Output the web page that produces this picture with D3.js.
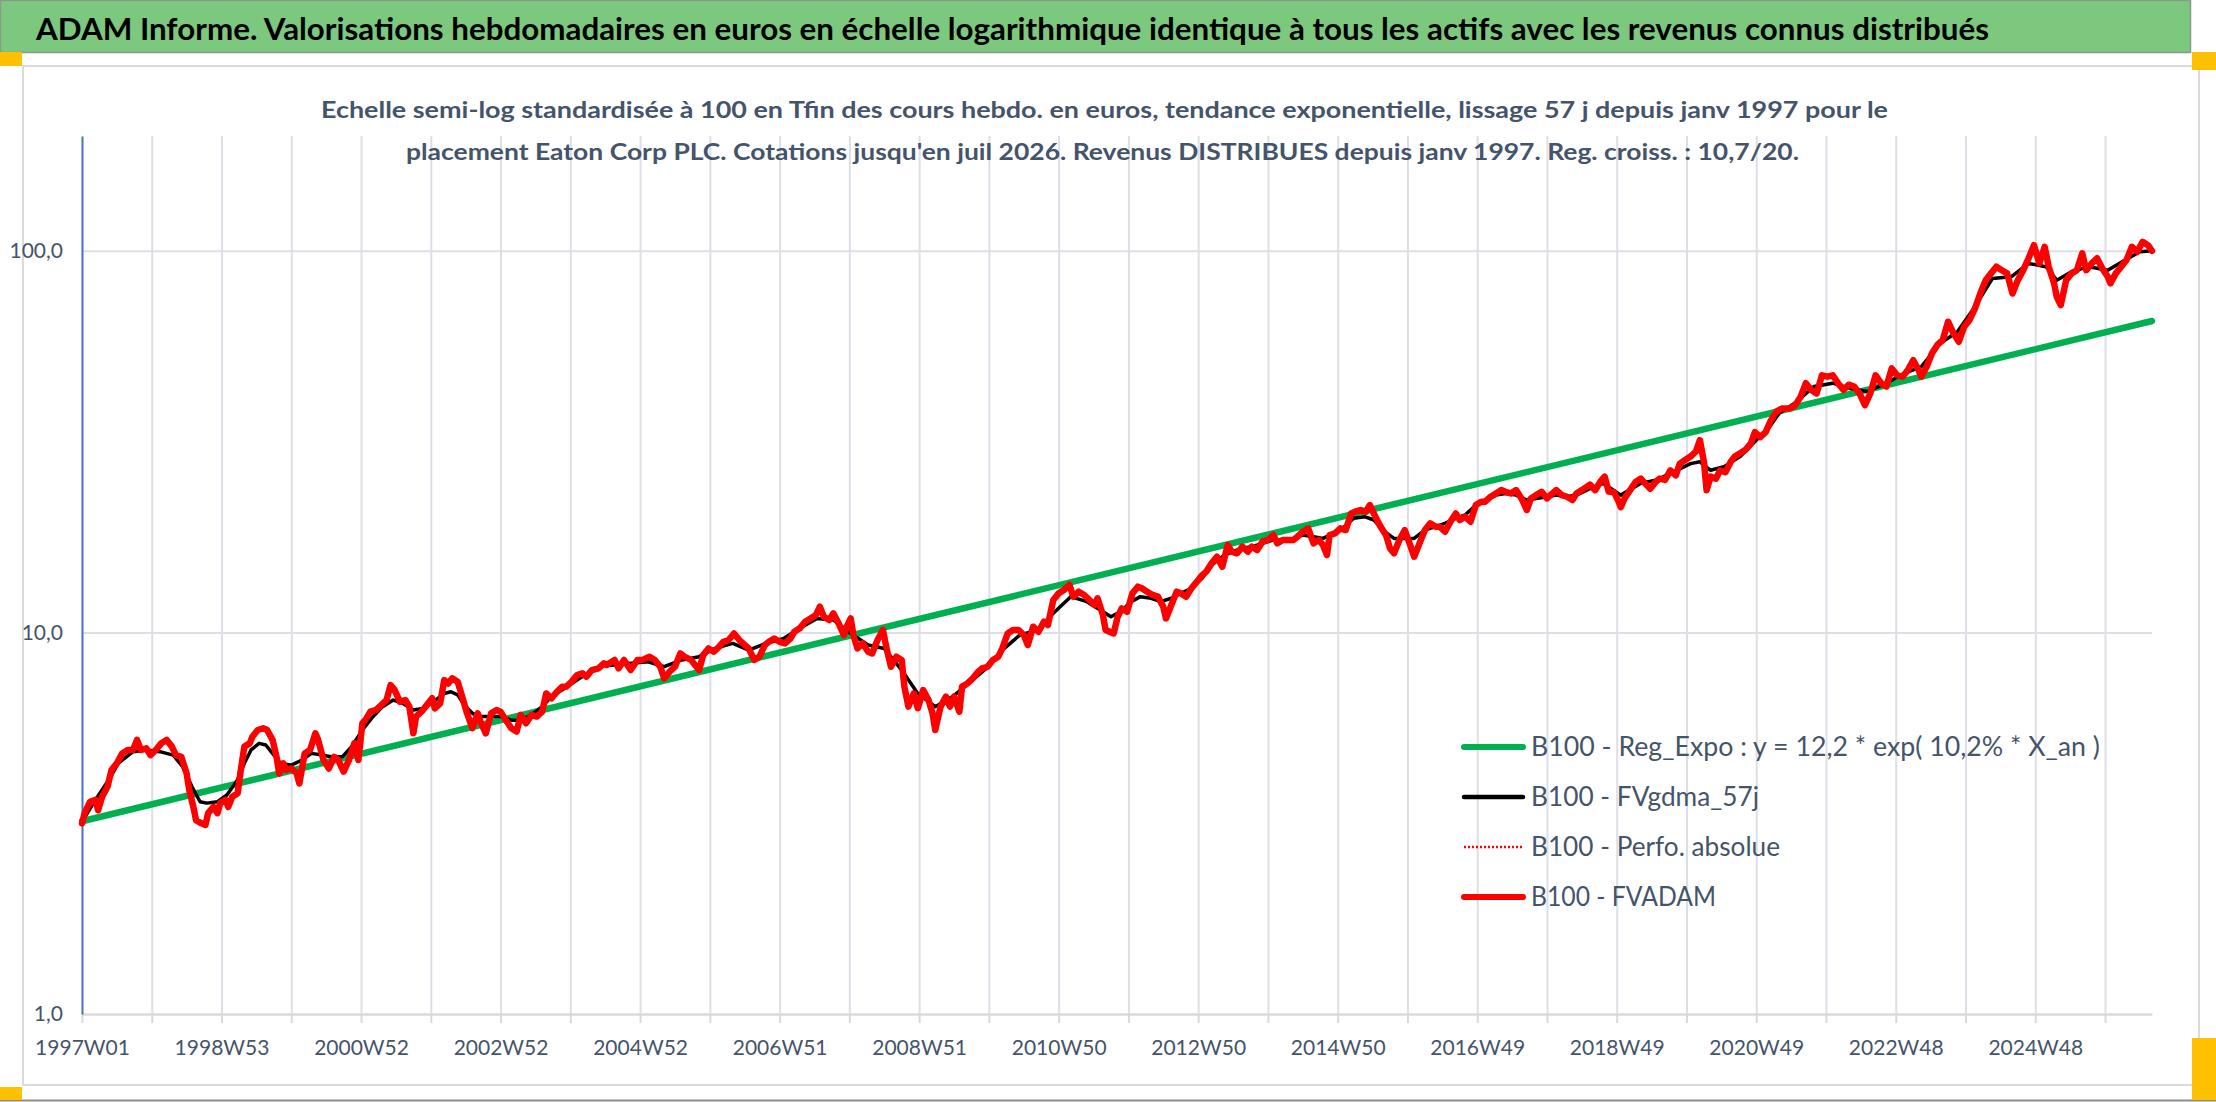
<!DOCTYPE html>
<html>
<head>
<meta charset="utf-8">
<script src="https://cdn.jsdelivr.net/npm/d3@7"></script>
<style>
body { margin: 0; background: #ffffff; }
svg { display: block; }
</style>
</head>
<body>
<script>
// texts
var titleText = "ADAM Informe. Valorisations hebdomadaires en euros en échelle logarithmique identique à tous les actifs avec les revenus connus distribués";
var subtitleLines = [
    "Echelle semi-log standardisée à 100 en Tfin des cours hebdo. en euros, tendance exponentielle, lissage 57 j depuis janv 1997 pour le",
    "placement Eaton Corp PLC. Cotations jusqu'en juil 2026. Revenus DISTRIBUES depuis janv 1997. Reg. croiss. : 10,7/20."
];
var legendLabels = [
    "B100 - Reg_Expo : y = 12,2 * exp( 10,2% *  X_an )",
    "B100 - FVgdma_57j",
    "B100 - Perfo. absolue",
    "B100 - FVADAM"
];

// x axis: week index from 1997W01, one label every 104 weeks
var weekLabels = ["1997W01", "1998W53", "2000W52", "2002W52", "2004W52", "2006W51", "2008W51",
    "2010W50", "2012W50", "2014W50", "2016W49", "2018W49", "2020W49", "2022W48", "2024W48"];
var lastWeek = 1543;
var yTicks = [1, 10, 100];

// series : [week index, value]
var regExpo = [[0, 3.2], [1543, 65.5]];

var fvgdma = [
 [0,3.19],[10,3.64],[20,4.11],[27,4.54],[38,4.87],[48,4.92],[58,4.87],[68,4.77],[75,4.45],[82,3.94],
 [88,3.60],[93,3.57],[101,3.60],[108,3.75],[116,4.11],[121,4.54],[126,4.92],[132,5.12],[137,5.07],[142,4.82],
 [148,4.54],[156,4.49],[164,4.63],[171,4.82],[179,4.77],[186,4.72],[194,4.72],[201,5.02],[209,5.55],[217,6.02],
 [224,6.39],[232,6.65],[239,6.52],[247,6.26],[254,6.32],[262,6.58],[270,6.92],[275,6.99],[280,6.86],[285,6.45],
 [291,6.14],[297,6.02],[305,6.02],[312,6.02],[320,5.89],[327,5.89],[335,6.08],[343,6.39],[350,6.79],[358,7.07],
 [365,7.35],[373,7.66],[380,7.89],[389,8.18],[397,8.22],[409,8.30],[422,8.38],[434,8.13],[447,8.47],[460,8.64],
 [472,9.08],[485,9.36],[497,8.99],[510,9.36],[523,9.64],[535,10.25],[548,10.88],[560,10.78],[573,9.94],[586,9.27],
 [598,9.08],[611,7.97],[623,6.92],[636,6.39],[649,6.79],[661,7.35],[674,8.05],[686,8.99],[699,9.84],[712,10.15],
 [724,11.22],[737,12.41],[749,12.04],[759,11.45],[767,10.99],[774,11.33],[782,12.04],[789,12.41],[797,12.29],[804,12.04],
 [812,12.29],[819,12.66],[827,13.05],[835,13.86],[842,15.02],[850,15.79],[857,16.28],[865,16.61],[872,16.78],[880,17.12],
 [888,17.47],[895,17.47],[903,17.64],[910,18.00],[918,17.82],[925,17.64],[933,18.18],[941,18.93],[948,19.91],[956,20.11],
 [963,19.71],[971,18.36],[978,17.64],[986,17.64],[993,17.64],[1001,18.55],[1009,18.93],[1016,19.31],[1024,19.91],[1031,20.31],
 [1039,21.57],[1046,22.23],[1054,22.91],[1061,23.14],[1069,22.91],[1077,22.23],[1084,22.45],[1092,22.68],[1099,22.91],[1107,22.68],
 [1114,22.91],[1124,23.8],[1134,24.6],[1147,22.9],[1162,24.6],[1174,25.1],[1186,26.3],[1199,27.7],[1206,28.0],[1214,26.6],
 [1224,27.2],[1236,28.9],[1248,31.9],[1258,34.6],[1265,37.5],[1278,40.2],[1291,44.1],[1305,45.0],[1318,43.6],[1331,42.8],
 [1345,45.0],[1358,47.7],[1371,49.7],[1385,57.2],[1398,61.4],[1411,71.4],[1424,84.6],[1438,85.5],[1451,92.7],[1464,90.9],
 [1472,83.8],[1483,88.2],[1496,90.9],[1510,89.0],[1523,94.6],[1534,99.5],[1543,100]
];

var fvadam = [
 [0,3.16],[2,3.36],[6,3.60],[10,3.64],[12,3.42],[15,3.71],[19,3.94],[22,4.36],[26,4.54],[30,4.82],
 [34,4.92],[38,4.92],[41,5.23],[44,4.92],[48,4.97],[51,4.77],[55,4.92],[59,5.12],[63,5.23],[67,5.02],
 [70,4.77],[74,4.72],[78,4.27],[80,3.86],[83,3.49],[85,3.22],[89,3.16],[92,3.13],[94,3.36],[98,3.49],
 [101,3.36],[103,3.57],[107,3.64],[109,3.49],[112,3.71],[116,3.79],[118,4.27],[121,5.02],[125,5.12],[127,5.33],
 [131,5.55],[135,5.61],[138,5.55],[142,5.23],[145,4.72],[147,4.27],[150,4.54],[152,4.36],[156,4.40],[160,4.27],
 [162,4.02],[166,4.82],[170,4.92],[174,5.44],[176,5.23],[180,4.63],[184,4.40],[188,4.72],[191,4.63],[195,4.32],
 [199,4.63],[203,5.12],[206,4.63],[209,5.78],[212,5.95],[215,6.20],[219,6.26],[223,6.45],[227,6.65],[230,7.28],
 [233,7.07],[237,6.58],[241,6.65],[244,6.39],[247,5.44],[249,6.02],[253,6.20],[257,6.45],[261,6.72],[263,6.32],
 [267,6.52],[270,7.50],[273,7.35],[276,7.58],[280,7.43],[283,6.86],[287,6.14],[291,5.61],[295,6.14],[297,5.84],
 [301,5.44],[305,6.14],[309,6.26],[312,6.20],[316,5.89],[320,5.61],[324,5.50],[327,6.08],[331,5.78],[335,6.08],
 [339,6.02],[343,6.20],[346,6.92],[350,6.72],[354,6.99],[358,7.21],[361,7.21],[365,7.43],[369,7.73],[373,7.81],
 [376,7.66],[380,7.97],[385,8.05],[389,8.30],[391,8.22],[397,8.47],[400,8.05],[404,8.47],[409,7.97],[414,8.47],
 [418,8.47],[423,8.64],[427,8.47],[431,8.13],[434,7.58],[438,7.89],[442,8.13],[446,8.81],[449,8.64],[454,8.47],
 [460,7.97],[463,8.72],[467,9.08],[471,8.90],[475,9.18],[478,9.45],[482,9.55],[486,9.94],[490,9.55],[494,9.27],
 [497,9.08],[501,8.47],[505,8.64],[509,9.27],[512,9.45],[516,9.64],[520,9.45],[524,9.36],[528,9.64],[531,10.04],
 [535,10.25],[539,10.67],[543,10.88],[547,11.10],[550,11.68],[553,10.99],[557,10.78],[560,11.22],[564,10.56],[568,9.84],
 [570,10.35],[573,10.88],[575,9.84],[578,9.08],[582,9.36],[586,8.90],[589,8.81],[593,9.55],[597,10.15],[600,8.99],
 [603,8.13],[607,8.64],[611,8.47],[613,7.21],[616,6.39],[620,6.92],[623,6.33],[627,7.06],[631,6.65],[634,6.14],
 [636,5.55],[640,6.39],[644,6.79],[647,6.39],[650,6.79],[654,6.20],[656,7.21],[660,7.35],[664,7.58],[668,7.89],
 [671,8.05],[675,8.13],[679,8.47],[683,8.64],[686,9.08],[690,9.94],[694,10.15],[698,10.15],[702,9.84],[705,9.27],
 [709,10.35],[713,10.04],[717,10.67],[720,10.46],[724,12.16],[728,12.66],[732,12.92],[736,13.32],[739,12.41],[743,12.79],
 [747,12.54],[751,12.16],[755,11.80],[757,12.29],[761,11.10],[763,10.15],[766,10.04],[769,9.94],[772,10.99],[775,11.56],
 [779,11.33],[783,12.66],[787,13.18],[790,13.05],[794,12.79],[798,12.54],[802,12.41],[806,11.68],[808,10.88],[812,11.80],
 [816,12.79],[819,12.66],[823,12.41],[827,13.05],[831,13.58],[835,14.13],[838,14.43],[842,15.17],[846,15.79],[850,14.87],
 [854,16.95],[857,16.28],[861,16.12],[865,16.78],[869,16.28],[872,16.78],[876,16.44],[880,17.30],[884,17.47],[888,18.00],
 [891,17.12],[895,17.47],[899,17.47],[903,17.47],[906,17.82],[910,18.36],[914,18.74],[918,17.12],[922,17.47],[925,16.95],
 [928,15.95],[930,18.00],[934,18.18],[938,18.74],[942,18.55],[946,20.51],[949,20.72],[953,20.93],[957,20.72],[960,21.57],
 [964,20.11],[968,18.93],[972,18.00],[975,16.61],[978,16.12],[982,17.47],[986,18.55],[990,16.95],[993,15.79],[997,17.12],
 [1001,18.55],[1005,19.31],[1009,18.93],[1012,18.93],[1016,18.36],[1020,19.51],[1024,20.51],[1027,19.71],[1031,20.11],[1035,19.51],
 [1039,21.57],[1043,22.01],[1046,22.01],[1050,22.68],[1054,23.14],[1058,23.61],[1061,23.37],[1065,23.14],[1069,23.61],[1073,22.45],
 [1077,20.93],[1080,22.45],[1084,22.91],[1088,23.37],[1092,22.45],[1096,23.14],[1099,23.61],[1103,22.91],[1107,22.68],[1111,22.23],
 [1114,23.14],[1118,23.61],[1124,24.4],[1128,23.6],[1132,24.9],[1135,25.6],[1138,23.4],[1142,23.3],[1145,22.2],[1147,21.3],
 [1150,22.5],[1154,23.6],[1158,24.8],[1162,25.3],[1165,24.6],[1169,23.8],[1173,24.8],[1176,25.3],[1180,25.1],[1184,26.6],
 [1188,25.8],[1191,27.7],[1195,28.3],[1199,28.9],[1203,29.8],[1206,31.9],[1209,28.0],[1211,23.6],[1214,25.6],[1218,25.3],
 [1221,26.6],[1225,26.3],[1229,28.0],[1232,28.9],[1236,29.5],[1240,30.1],[1244,31.3],[1247,33.5],[1251,32.5],[1255,33.5],
 [1259,36.0],[1263,37.9],[1267,38.6],[1273,38.6],[1277,39.4],[1281,41.4],[1285,45.0],[1289,43.2],[1293,42.3],[1297,47.2],
 [1301,46.8],[1305,47.2],[1309,45.0],[1313,43.2],[1317,44.6],[1321,44.1],[1325,42.3],[1329,39.4],[1333,42.3],[1337,47.2],
 [1341,45.0],[1345,44.1],[1349,49.2],[1353,47.2],[1357,46.8],[1361,48.7],[1365,51.7],[1369,48.7],[1371,46.8],[1375,49.7],
 [1379,53.9],[1383,56.7],[1387,58.4],[1391,65.2],[1395,60.8],[1399,57.8],[1403,63.3],[1407,65.9],[1411,70.6],[1415,77.3],
 [1419,83.8],[1423,87.3],[1427,90.9],[1431,89.0],[1435,87.3],[1439,77.3],[1443,83.8],[1447,89.0],[1451,95.6],[1455,103.5],
 [1459,92.7],[1463,102.5],[1466,90.9],[1470,82.2],[1472,75.8],[1475,72.1],[1479,83.8],[1483,87.3],[1487,89.0],[1491,98.5],
 [1494,89.0],[1498,92.7],[1502,95.6],[1506,89.9],[1510,85.5],[1512,82.2],[1516,87.3],[1520,90.9],[1524,94.6],[1528,102.5],
 [1532,99.5],[1536,105.6],[1540,103.5],[1543,100]
];
// Perfo. absolue sits exactly under FVADAM
var perfoAbsolue = fvadam;

var W = 2216, H = 1102;
var plotLeft = 82, plotRight = 2152, plotTop = 136, plotBottom = 1014;
var textCol = "#44546A", gridCol = "#DCDFE5";
var font = "Lato, 'Open Sans', sans-serif";

var svg = d3.select("body").append("svg")
    .attr("width", W)
    .attr("height", H);

// frame and banner
svg.append("rect").attr("x", 0).attr("y", 0).attr("width", W).attr("height", H).style("fill", "#ffffff");
svg.append("rect").attr("x", 23).attr("y", 66).attr("width", 2176).attr("height", 1019)
    .style("fill", "none").style("stroke", "#DADADA").style("stroke-width", 2);
svg.append("rect").attr("x", 0.5).attr("y", 0.5).attr("width", 2190).attr("height", 52)
    .style("fill", "#7DC87F").style("stroke", "#8A9A8A").style("stroke-width", 1.5);
svg.append("line").attr("x1", 0).attr("x2", W).attr("y1", 1100.5).attr("y2", 1100.5)
    .style("stroke", "#8C8C8C").style("stroke-width", 2);
var orange = [[0, 52, 22, 14], [2192, 52, 24, 18], [0, 1087, 22, 13], [2192, 1038, 24, 62]];
svg.selectAll("rect.mark").data(orange).enter().append("rect")
    .attr("class", "mark")
    .attr("x", function(d){return d[0];})
    .attr("y", function(d){return d[1];})
    .attr("width", function(d){return d[2];})
    .attr("height", function(d){return d[3];})
    .style("fill", "#FFC000");

svg.append("text")
    .attr("x", 36).attr("y", 40)
    .attr("textLength", 1953).attr("lengthAdjust", "spacingAndGlyphs")
    .style("font-family", font).style("font-weight", "bold").style("font-size", "31px")
    .style("fill", "#000000")
    .text(titleText);

// scales
var x = d3.scaleLinear().domain([0, lastWeek]).range([plotLeft, plotRight]);
var y = d3.scaleLog().domain([1, 200]).range([plotBottom, plotTop]);
var yearTicks = d3.range(52, lastWeek + 1, 52);
var labelTicks = d3.range(0, lastWeek + 1, 104);
var frFormat = d3.formatLocale({decimal: ",", thousands: " ", grouping: [3], currency: ["", " €"]}).format(".1f");

// gridlines
var vGrid = svg.append("g").attr("transform", "translate(0," + plotBottom + ")")
    .call(d3.axisBottom(x).tickValues(yearTicks).tickSize(-(plotBottom - plotTop)).tickFormat(""));
vGrid.select(".domain").remove();
vGrid.selectAll("line").style("stroke", gridCol).style("stroke-width", 2);

var hGrid = svg.append("g").attr("transform", "translate(" + plotLeft + ",0)")
    .call(d3.axisLeft(y).tickValues(yTicks).tickSize(-(plotRight - plotLeft)).tickFormat(""));
hGrid.select(".domain").remove();
hGrid.selectAll("line").style("stroke", gridCol).style("stroke-width", 2);

// x axis with tick marks below
var xAxis = svg.append("g").attr("transform", "translate(0," + plotBottom + ")")
    .call(d3.axisBottom(x).tickValues([0].concat(yearTicks)).tickSize(9).tickSizeOuter(0).tickFormat(""));
xAxis.select(".domain").style("stroke", "#D9D9D9").style("stroke-width", 2);
xAxis.selectAll("line").style("stroke", "#D9D9D9").style("stroke-width", 2);

var xLab = svg.append("g").attr("transform", "translate(0," + plotBottom + ")")
    .call(d3.axisBottom(x).tickValues(labelTicks).tickSize(0).tickPadding(26)
        .tickFormat(function(d, i){return weekLabels[i];}));
xLab.select(".domain").remove();
xLab.selectAll("text").style("font-family", font).style("font-size", "21px").style("fill", textCol);

// y axis
var yAxis = svg.append("g").attr("transform", "translate(" + plotLeft + ",0)")
    .call(d3.axisLeft(y).tickValues(yTicks).tickSize(0).tickSizeOuter(0).tickPadding(19).tickFormat(frFormat));
yAxis.select(".domain").style("stroke", "#4472C4").style("stroke-width", 2);
yAxis.selectAll("text").style("font-family", font).style("font-size", "21px").style("fill", textCol);

// subtitle sits over the gridlines
var subX = [321, 406], subY = [118, 160], subLen = [1567, 1393];
svg.selectAll("text.sub").data(subtitleLines).enter().append("text")
    .attr("class", "sub")
    .attr("x", function(d, i){return subX[i];})
    .attr("y", function(d, i){return subY[i];})
    .attr("textLength", function(d, i){return subLen[i];})
    .attr("lengthAdjust", "spacingAndGlyphs")
    .style("font-family", font).style("font-weight", "bold").style("font-size", "23px")
    .style("fill", textCol)
    .text(function(d){return d;});

// series
var line = d3.line()
    .x(function(d){return x(d[0]);})
    .y(function(d){return y(d[1]);});

var series = [
    {data: regExpo, color: "#00B050", width: 6.5, dash: null},
    {data: fvgdma, color: "#000000", width: 3.5, dash: null},
    {data: perfoAbsolue, color: "#FF0000", width: 2, dash: "2,2"},
    {data: fvadam, color: "#FF0000", width: 6.5, dash: null}
];
svg.selectAll("path.series").data(series).enter().append("path")
    .attr("class", "series")
    .attr("d", function(d){return line(d.data);})
    .style("fill", "none")
    .style("stroke", function(d){return d.color;})
    .style("stroke-width", function(d){return d.width;})
    .style("stroke-dasharray", function(d){return d.dash;})
    .style("stroke-linejoin", "round")
    .style("stroke-linecap", function(d){return d.dash ? "butt" : "round";});

// legend
var legY = [747, 797, 847, 897], legLen = [569, 228, 249, 185], legWidth = [6, 4.5, 2.5, 6];
var leg = svg.selectAll("g.leg").data(series).enter().append("g")
    .attr("class", "leg")
    .attr("transform", function(d, i){return "translate(0," + legY[i] + ")";});
leg.append("line")
    .attr("x1", 1464).attr("x2", 1523).attr("y1", 0).attr("y2", 0)
    .style("stroke", function(d){return d.color;})
    .style("stroke-width", function(d, i){return legWidth[i];})
    .style("stroke-dasharray", function(d){return d.dash;})
    .style("stroke-linecap", function(d){return d.dash ? "butt" : "round";});
leg.append("text")
    .attr("x", 1531).attr("y", 0).attr("dy", "0.35em")
    .attr("textLength", function(d, i){return legLen[i];})
    .attr("lengthAdjust", "spacingAndGlyphs")
    .style("font-family", font).style("font-size", "26px").style("fill", textCol)
    .text(function(d, i){return legendLabels[i];});
</script>
</body>
</html>
